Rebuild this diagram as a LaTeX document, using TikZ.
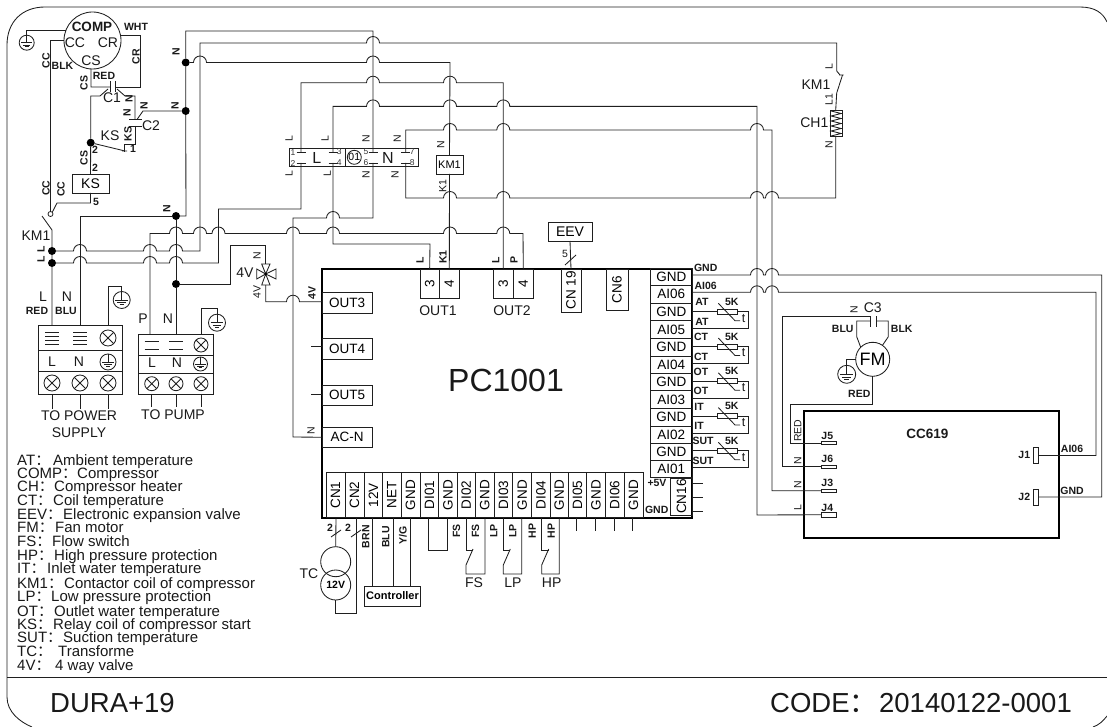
\documentclass[tikz,border=0pt]{standalone}
\usepackage{fontspec}
\setmainfont{Liberation Sans}
\newfontfamily\cjkf{Noto Sans CJK SC}
\newcounter{lbl}
\newcommand\JMP[2]{-- (#1-6.5,#2) arc[start angle=180,end angle=0,radius=6.5pt]}
\newcommand\TXT[4][tx]{\stepcounter{lbl}\node[#1] (lbl\arabic{lbl}) at (#2,#3) {#4};}
\newcommand\BX[7][]{\node[boxn,minimum width={((#5)-(#3))*1pt},minimum height={((#6)-(#4))*1pt},#1] (#2) at ({((#3)+(#5))/2},{((#4)+(#6))/2}) {#7};}
\newcommand\RBX[6]{\BX{#1}{#2}{#3}{#4}{#5}{\rotatebox{90}{#6}}}
\newcommand\GNDS[4]{\node[circle,draw,wire,minimum size={2*#4*1pt},inner sep=0pt,outer sep=0pt] (#1) at (#2,#3) {};
 \draw[wire] (#1.north) -- (#1.center);
 \draw[wire] (#2-0.75*#4,#3) -- (#2+0.75*#4,#3);
 \draw[wire] (#2-0.5*#4,#3+0.3*#4) -- (#2+0.5*#4,#3+0.3*#4);
 \draw[wire] (#2-0.25*#4,#3+0.55*#4) -- (#2+0.25*#4,#3+0.55*#4);}
\newcommand\XC[4]{\node[circle,draw,wire,minimum size={2*#4*1pt},inner sep=0pt,outer sep=0pt] (#1) at (#2,#3) {};
 \draw[wire] (#1.45) -- (#1.225) (#1.135) -- (#1.-45);}
\newcommand\LEG[4]{\stepcounter{lbl}\node[leg] (lbl\arabic{lbl}) at (17,#1) {\makebox[#3pt][l]{#2{\cjkf：}}#4};}
\tikzset{
 wire/.style={line width=0.85pt,draw=black!88},
 thick box/.style={line width=1.9pt,draw=black},
 boxn/.style={draw=black!88,line width=0.85pt,inner sep=0pt,outer sep=0pt,font=\fontsize{13.5}{13.5}\selectfont},
 tx/.style={inner sep=0pt,font=\fontsize{14}{14}\selectfont,text=black!90},
 bd/.style={inner sep=0pt,font=\fontsize{10.5}{10.5}\selectfont\bfseries,text=black!90},
 sm/.style={inner sep=0pt,font=\fontsize{10.5}{10.5}\selectfont,text=black!90},
 rb/.style={bd,rotate=90},
 rs/.style={sm,rotate=90},
 rt/.style={tx,rotate=90},
 pn/.style={inner sep=0pt,font=\fontsize{8.5}{8.5}\selectfont,text=black!80},
 leg/.style={inner sep=0pt,anchor=base west,font=\fontsize{15}{15}\selectfont,text=black!90},
 big/.style={inner sep=0pt,anchor=base west,font=\fontsize{27.5}{27.5}\selectfont,text=black!90},
 dot/.style={circle,fill=black,inner sep=0pt,outer sep=0pt,minimum size=8pt},
 swo/.style={circle,draw=black!88,line width=0.8pt,inner sep=0pt,outer sep=0pt,minimum size=5pt},
}
\begin{document}
\begin{tikzpicture}[x=1pt,y=-1pt]
\useasboundingbox (0,0) rectangle (1107,727);
% frame
\draw[wire] (1107,22) .. controls (1103,13) and (1095,7) .. (1080,7) -- (45,7) .. controls (22,7) and (7,22) .. (7,45) -- (7,697) .. controls (7,712) and (20,722) .. (32,727);
\draw[wire] (1093,727) .. controls (1099,725) and (1103,721) .. (1107,716);
\draw[wire,line width=1pt] (7,677.7) -- (1107,677.7);

% compressor group
\node[circle,draw,wire,minimum size=57pt,inner sep=0pt,outer sep=0pt] (comp) at (92.5,40.5) {};
\TXT[tx,font=\fontsize{13.5}{13.5}\selectfont\bfseries]{92}{27}{COMP}
\TXT{75}{43}{CC}\TXT{108}{43}{CR}\TXT{91}{61}{CS}
\TXT[bd]{136}{27}{WHT}
\GNDS{gndA}{26.7}{42.7}{7.5}
\draw[wire] (comp.160) -| (gndA.north);
\node[swo] (swoA) at (50.5,214) {};
\draw[wire] (comp.180) -| (swoA.north);
\BX{ksb}{72}{174}{109}{193}{\fontsize{14}{14}\selectfont KS}
\draw[wire] (swoA.45) -- (57,203) -| (ksb.south);
\coordinate (c1L) at (110,87);\coordinate (c1R) at (115,87);
\draw[wire] (comp.-93) -- (91,87) -- (c1L);
\draw[wire] (c1R) -- (140.7,87) |- (comp.11);
\draw[wire] (110,81) -- (110,92) (115,81) -- (115,92);
\node[dot] (jA) at (90.7,142.7) {};
\node[dot] (jN1) at (185.7,62.5) {};
\node[dot] (jN2) at (185.7,111) {};
\node[dot] (jN3) at (176,216) {};
\node[dot] (jP) at (176,284) {};
\node[dot] (jL1) at (52,251) {};
\node[dot] (jL2) at (52,263) {};
\draw[wire] (jA) -- (90.7,96) -- (100,96) -- (108,89);
\draw[wire] (117,89) -- (125,96) -- (135,96) -- (135,119.5);
\draw[wire] (129,119.5) -- (142,119.5) (129,126) -- (142,126);
\draw[wire] (jN2) -- (143,111) -- (137,119.5);
\draw[wire] (135,126) -- (135,144) -- (124,144) -- (124,152);
\draw[wire] (jA) -- (125,151) (122,151) -- (127,151);
\draw[wire] (jA) -- (ksb.north);
\TXT[rb]{46}{61}{CC}\TXT[bd]{62.5}{66}{BLK}\TXT[rb]{84}{83}{CS}\TXT[bd]{104}{76}{RED}\TXT[rb]{136}{57}{CR}
\TXT[rb]{129}{99}{N}\TXT[rb]{144}{106}{N}\TXT[rb]{127}{113}{N}\TXT[rb]{128}{134}{KS}
\TXT{151}{126}{C2}\TXT{112}{98}{C1}\TXT{110}{136}{KS}
\TXT[bd]{133}{149}{1}\TXT[bd]{95}{150}{2}\TXT[rb]{84}{158}{CS}\TXT[bd]{95}{168}{2}
\TXT[rb]{46}{188}{CC}\TXT[rb]{61}{189}{CC}\TXT[bd]{96}{202}{5}
\TXT[rb]{176}{52}{N}\TXT[rb]{175}{106}{N}\TXT[rb]{166.7}{209}{N}
\TXT{36}{236}{KM1}\TXT[rb]{41}{249}{L}\TXT[rb]{41}{259}{L}

% L / N terminal block
\BX{blk}{289.3}{148.3}{418.3}{166.7}{}
\draw[wire] (345.7,148.3) -- (345.7,166.7);
\node[circle,draw,wire,minimum size=14pt,inner sep=0pt,outer sep=0pt,font=\fontsize{10.5}{10.5}\selectfont] (o1) at (354.3,157.3) {01};
\TXT[tx,font=\fontsize{16}{16}\selectfont]{316.7}{158}{L}\TXT[tx,font=\fontsize{16}{16}\selectfont]{388}{158}{N}
\foreach \x in {301,333,373,405.7} \foreach \y in {152,163} \draw[wire] (\x-4.5,\y) -- (\x+4.5,\y);
\TXT[pn]{293}{152.3}{1}\TXT[pn]{293}{163.3}{2}\TXT[pn]{339.3}{152}{3}\TXT[pn]{339.3}{163}{4}
\TXT[pn]{366}{152}{5}\TXT[pn]{366}{163}{6}\TXT[pn]{412.3}{152}{7}\TXT[pn]{412.3}{163}{8}
\TXT[rs]{289}{139}{L}\TXT[rs]{325}{139}{L}\TXT[rs]{366}{139}{N}\TXT[rs]{397.3}{139}{N}
\TXT[rs]{289}{173.3}{L}\TXT[rs]{327.3}{173.3}{L}\TXT[rs]{366}{175}{N}\TXT[rs]{395}{175}{N}
\BX{kma}{436}{155}{463}{174}{\fontsize{11}{11}\selectfont KM1}
\TXT[rs]{440.7}{145}{N}\TXT[rs]{442.7}{186}{K1}

% PC1001
\node[thick box,draw,minimum width=370pt,minimum height=249pt,inner sep=0pt,outer sep=0pt] (pc) at (507,393.5) {};
\TXT[tx,font=\fontsize{32}{32}\selectfont]{506}{380}{PC1001}
\RBX{o1c}{420}{269}{439.3}{298}{3}\RBX{o1d}{439.3}{269}{459.3}{298}{4}
\RBX{o2c}{493.3}{269}{513.3}{298}{3}\RBX{o2d}{513.3}{269}{533.3}{298}{4}
\TXT{438}{311}{OUT1}\TXT{512}{311}{OUT2}
\TXT[rb]{420}{260}{L}\TXT[rb]{443}{257}{K1}\TXT[rb]{495.7}{260}{L}\TXT[rb]{514}{260}{P}
\RBX{cn19}{561}{269}{581}{312}{CN 19}
\RBX{cn6}{606}{269}{628}{310}{CN6}
\BX{eev}{548}{222}{592}{241}{\fontsize{14}{14}\selectfont EEV}
\draw[wire] (eev.south) -- (cn19.north);
\draw[wire] (565,265) -- (576,255);
\TXT[sm]{565}{254}{5}
\BX{out3}{322}{292}{372}{313}{OUT3}
\BX{out4}{322}{338}{372}{359}{OUT4}
\BX{out5}{322}{385}{372}{405}{OUT5}
\BX{acn}{322}{427}{372}{447.5}{AC-N}
\draw[wire] (311,346.7) -- (322,346.7) (311,394.3) -- (322,394.3);
\TXT[rs]{311}{431}{N}\TXT[rb]{312}{293}{4V}

% bottom cells
\foreach \xa/\xb/\t [count=\i] in {326/345/CN1,345/364/CN2,364/382.7/12V,382.7/401/NET,401/420/GND,420/438.7/DI01,438.7/457.3/GND,457.3/475.3/DI02,475.3/494/GND,494/512.7/DI03,512.7/531.7/GND,531.7/550/DI04,550/568.3/GND,568.3/586.7/DI05,586.7/605.3/GND,605.3/624/DI06,624/643/GND}
 {\RBX{cell\i}{\xa}{472.7}{\xb}{517.7}{\t}}
\foreach \x in {576.7,595.7,614.3,632} \draw[wire] (\x,517.7) -- (\x,531);
\TXT[bd]{657}{483}{+5V}\TXT[bd]{656.7}{510}{GND}
\RBX{cn16}{670.7}{478}{692}{515}{CN16}
\foreach \y in {483,497,511} \draw[wire] (692,\y) -- (703,\y);

% AI column
\foreach \ya/\yb/\t [count=\i] in {268.3/285/GND,285/303.3/AI06,303.3/320.7/GND,320.7/338.3/AI05,338.3/356/GND,356/373.3/AI04,373.3/390.7/GND,390.7/408.3/AI03,408.3/426/GND,426/443.3/AI02,443.3/460/GND,460/477.3/AI01}
 {\BX{ai\i}{650.7}{\ya}{692}{\yb}{\t}}

% transformer and bottom wiring
\node[circle,draw,wire,minimum size=30pt,inner sep=0pt,outer sep=0pt] (tca) at (335.7,561.7) {};
\node[circle,draw,wire,minimum size=30pt,inner sep=0pt,outer sep=0pt,font=\fontsize{10.5}{10.5}\selectfont\bfseries] (tcb) at (335.7,585) {12V};
\draw[wire] (336,517.7) -- (tca.north);
\draw[wire] (tcb.south) -- (335.7,613) -- (356,613) -- (356,517.7);
\draw[wire] (331,537) -- (341,530) (351,537) -- (361,530);
\TXT[bd]{330}{528}{2}\TXT[bd]{348}{528}{2}\TXT{309}{574}{TC}
\BX{ctrl}{364.3}{586}{420.7}{606}{\fontsize{11}{11}\selectfont\bfseries Controller}
\draw[wire] (372.3,517.7) -- (372.3,586) (393.3,517.7) -- (393.3,586) (410,517.7) -- (410,586);
\TXT[rb]{365.7}{536.7}{BRN}\TXT[rb]{385.7}{537}{BLU}\TXT[rb]{403}{535}{Y/G}
\draw[wire] (428.3,517.7) |- (447.3,550.7) -- (447.3,517.7);
\foreach \xa/\xb/\t/\lx in {466/485/FS/474,503.3/521.7/LP/513,541.7/559.3/HP/551.7} {
 \draw[wire] (\xa,517.7) -- (\xa,550) -- (\xa+7,550);
 \draw[wire] (\xa+7,549) -- (\xa,565) -- (\xa,574) -- (\xb,574) -- (\xb,517.7);
 \TXT[rb]{\xa-9.5}{531}{\t}\TXT[rb]{\xa+9.5}{531}{\t}\TXT{\lx}{583}{\t}
}

% sensors
\foreach \i/\t/\lx in {0/AT/702,1/CT/701,2/OT/701,3/IT/699,4/SUT/703} {
 \pgfmathsetmacro\ya{311.7+34.75*\i}
 \pgfmathsetmacro\yb{\ya+17}
 \BX{res\i}{717.7}{\ya-2.5}{737.7}{\ya+2.5}{}
 \draw[wire] (692,\ya) -- (res\i.west);
 \draw[wire] (res\i.east) -- (748.3,\ya) |- (692,\yb);
 \draw[wire] (718.3,\ya-8.4) -- (735,\ya+9) -- (740,\ya+9);
 \TXT[tx,font=\fontsize{12.5}{12.5}\selectfont]{743.5}{\ya+6.5}{t}
 \TXT[bd]{731.7}{\ya-10}{5K}
 \TXT[bd]{\lx}{\ya-9.5}{\t}
 \TXT[bd]{\lx}{\yb-7}{\t}
}

% CC619
\node[thick box,draw,minimum width=255pt,minimum height=127.3pt,inner sep=0pt,outer sep=0pt] (cc) at (931.5,474.6) {};
\TXT[tx,font=\fontsize{13.5}{13.5}\selectfont\bfseries]{927.3}{434}{CC619}
\BX{jb5}{821.7}{441.7}{836.7}{444.7}{}
\BX{jb6}{821.7}{465}{836.7}{468.5}{}
\BX{jb3}{821.7}{489}{836.7}{492.5}{}
\BX{jb4}{821.7}{512.5}{836.7}{517}{}
\BX{jb1}{1033.3}{447.7}{1038}{463.3}{}
\BX{jb2}{1033.3}{489}{1038}{505}{}
\TXT[bd]{827.3}{436}{J5}\TXT[bd]{827.3}{459}{J6}\TXT[bd]{827.3}{483}{J3}\TXT[bd]{827.3}{508}{J4}
\TXT[bd]{1024.3}{455}{J1}\TXT[bd]{1024.3}{497}{J2}
\TXT[bd]{1072}{449}{AI06}\TXT[bd]{1072}{491}{GND}
\TXT[rs]{797.7}{430.7}{RED}\TXT[rs]{797.7}{461}{N}\TXT[rs]{797.7}{484.3}{N}\TXT[rs]{797.7}{508}{L}
\TXT[bd]{705.7}{268}{GND}\TXT[bd]{705.7}{286}{AI06}

% fan motor
\node[circle,draw,wire,minimum size=34pt,inner sep=0pt,outer sep=0pt,font=\fontsize{18}{18}\selectfont] (fm) at (872.7,359.3) {FM};
\draw[wire] (870.7,316) -- (870.7,327.3) (876,316) -- (876,327.3);
\draw[wire] (870.7,321) -- (856.7,321) -- (856.7,336.7) -- (fm.135);
\draw[wire] (876,321) -- (888.3,321) -- (888.3,336.7) -- (fm.55);
\coordinate (c3t) at (870.7,316);
\draw[wire] (c3t) -- (782.7,316) |- (jb6.west);
\GNDS{gndF}{846.7}{374.3}{9}
\draw[wire] (fm.180) -| (gndF.north);
\draw[wire] (fm.south) |- (790.7,404.3) |- (jb5.west);
\TXT[rs]{854}{310}{N}\TXT{872.7}{308}{C3}\TXT[bd]{842.7}{329}{BLU}\TXT[bd]{901.7}{329}{BLK}\TXT[bd]{859.3}{394.3}{RED}

% main wires
\draw[wire] (jN3) -- (186,216) -- (jN2) -- (jN1) -- (185.7,31) -- (373,31) -- (373,152);
\draw[wire] (jN3) -- (80,216) -- (80,325);
\draw[wire] (jN3) -- (jP) -- (176,334);
\draw[wire] (jN1) \JMP{200}{62.5} \JMP{373}{62.5} -- (450,62.5) -- (kma.north);
\draw[wire] (kma.south) -- (o1d.north);
\draw[wire] (301,152) -- (301,82.7) \JMP{373}{82.7} \JMP{450}{82.7} -- (503.3,82.7) -- (o2c.north);
\draw[wire] (333,152) -- (333,106.4) \JMP{373}{106.4} \JMP{450}{106.4} \JMP{503.3}{106.4} -- (757,106.4) -- (757,515) -- (jb4.west);
\draw[wire] (405.7,152) -- (405.7,130) \JMP{450}{130} \JMP{503.3}{130} \JMP{757}{130} -- (772,130) -- (772,490.8) -- (jb3.west);
\draw[wire] (405.7,163) -- (405.7,198) \JMP{450}{198} \JMP{503.3}{198} \JMP{757}{198} \JMP{772}{198} -- (835.7,198) -- (835.7,136.7);
\draw[wire] (150,334) -- (150,233.5) \JMP{176}{233.5} \JMP{200}{233.5} \JMP{218.5}{233.5} \JMP{293}{233.5} \JMP{333}{233.5} \JMP{450}{233.5} \JMP{503.3}{233.5} -- (523,233.5) -- (o2d.north);
\draw[wire] (jL1) \JMP{80}{251} \JMP{150}{251} \JMP{176}{251} -- (200,251) -- (200,43) \JMP{373}{43} -- (836.7,43) -- (836.7,71);
\draw[wire] (jL2) \JMP{80}{263} \JMP{150}{263} \JMP{176}{263} -- (218.5,263) -- (218.5,209) -- (301,209) -- (301,163);
\draw[wire] (acn.west) -- (293,437) -- (293,218) \JMP{333}{218} -- (373,218) -- (373,163);
\draw[wire] (333,163) -- (333,244) -- (430,244) -- (o1c.north);
\draw[wire] (jP) -- (230,284) -- (230,245) -- (265.7,245) -- (265.7,264);
\draw[wire] (265.7,285) -- (265.7,301.7) \JMP{293}{301.7} -- (out3.west |- 0,301.7);
\draw[wire] (692,275) \JMP{757}{275} \JMP{772}{275} -- (1101.7,275) -- (1101.7,497) -- (jb2.east);
\draw[wire] (692,292.3) \JMP{757}{292.3} \JMP{772}{292.3} -- (1096,292.3) -- (1096,455.5) -- (jb1.east);

% KM1 switch at left
\draw[wire] (42,216) -- (52,230) -- (jL1) -- (jL2) -- (52,325);

% four-way valve
\coordinate (vc) at (265.7,274);
\draw[wire] (vc) -- (261.7,264) -- (270,264) -- cycle;
\draw[wire] (vc) -- (261.7,285) -- (270,285) -- cycle;
\draw[wire] (vc) -- (256.7,269) -- (256.7,279) -- cycle;
\draw[wire] (vc) -- (276,269) -- (276,279) -- cycle;
\fill (vc) circle[radius=1.4pt];
\TXT[rs]{257}{256}{N}\TXT{245}{273}{4V}\TXT[rs]{257}{292}{4V}

% power terminals
\BX{pwr}{38}{325}{122}{394}{}
\draw[wire] (38,350.7) -- (122,350.7) (38,371) -- (122,371);
\foreach \x in {52,80} \foreach \y in {332.7,336.7,340.7,344.7} \draw[wire] (\x-7,\y) -- (\x+7,\y);
\XC{pwa}{108}{338}{8}
\TXT{52}{362}{L}\TXT{79}{362}{N}
\GNDS{pwg}{108}{362}{8}
\XC{pwb}{52}{383}{8}\XC{pwc}{80}{383}{8}\XC{pwd}{108}{383}{8}
\draw[wire] (52,394) -- (52,409) (80,394) -- (80,409) (108,394) -- (108,409);
\TXT{79}{416}{TO POWER}\TXT{79}{433}{SUPPLY}
\GNDS{gndP}{121.7}{300}{8.5}
\draw[wire] (108.3,325) -- (108.3,286) -| (gndP.north);
\TXT{43}{297}{L}\TXT{67}{297}{N}\TXT[bd]{37}{311}{RED}\TXT[bd]{66}{311}{BLU}

% pump terminals
\BX{pmp}{138}{334}{213}{394}{}
\draw[wire] (138,355.7) -- (213,355.7) (138,373) -- (213,373);
\foreach \x in {151.7,176} \foreach \y in {341.7,349.3} \draw[wire] (\x-7,\y) -- (\x+7,\y);
\XC{pma}{201}{345}{7}
\TXT{152}{363}{L}\TXT{177}{363}{N}
\GNDS{pmg}{200.5}{364}{7}
\XC{pmb}{151.7}{383.7}{7}\XC{pmc}{176}{383.7}{7}\XC{pmd}{201}{383.7}{7}
\draw[wire] (151.7,394) -- (151.7,406.7) (176,394) -- (176,406.7) (201,394) -- (201,406.7);
\TXT{173}{415}{TO PUMP}
\GNDS{gndQ}{217}{322.7}{8.5}
\draw[wire] (201,334) -- (201,308) -| (gndQ.north);
\TXT{143}{319}{P}\TXT{168}{319}{N}

% KM1 / CH1 at right
\draw[wire] (836.7,71) -- (840,75) (839,75) -- (843.5,75);
\draw[wire] (842.5,75) -- (836.7,93) -- (835.7,110);
\BX{ch}{830}{110}{842.3}{136.7}{}
\draw[wire] (831,111) -- (841,113.5) -- (831,116) -- (841,118.5) -- (831,121) -- (841,123.5) -- (831,126) -- (841,128.5) -- (831,131) -- (841,133.5) -- (831,136);
\TXT{816}{85}{KM1}\TXT{814.3}{123}{CH1}
\TXT[rs]{829}{66.7}{L}\TXT[rs]{829}{100}{L1}\TXT[rs]{829}{145}{N}

% legend
\LEG{465}{AT}{36}{Ambient temperature}
\LEG{478}{COMP}{60}{Compressor}
\LEG{491.5}{CH}{37}{Compressor heater}
\LEG{505.5}{CT}{36}{Coil temperature}
\LEG{519.5}{EEV}{46}{Electronic expansion valve}
\LEG{532.5}{FM}{38}{Fan motor}
\LEG{546}{FS}{35}{Flow switch}
\LEG{560}{HP}{37}{High pressure protection}
\LEG{573}{IT}{30}{Inlet water temperature}
\LEG{588.5}{KM1}{47}{Contactor coil of compressor}
\LEG{601}{LP}{34}{Low pressure protection}
\LEG{616}{OT}{37}{Outlet water temperature}
\LEG{629}{KS}{36}{Relay coil of compressor start}
\LEG{642}{SUT}{46}{Suction temperature}
\LEG{656.5}{TC}{41}{Transforme}
\LEG{670.5}{4V}{38}{4 way valve}
\stepcounter{lbl}\node[big] (lblA) at (50,712) {DURA+19};
\stepcounter{lbl}\node[big] (lblB) at (770,712) {CODE{\cjkf：}\hspace{2pt}20140122-0001};
\end{tikzpicture}
\end{document}
